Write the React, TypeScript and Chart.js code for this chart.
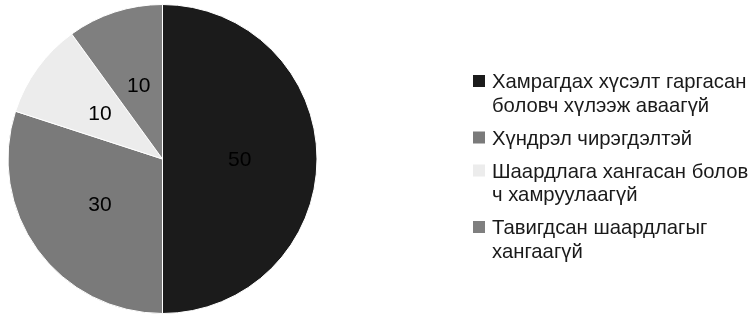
import React, { useEffect, useRef } from "react";
import { Chart, registerables } from "chart.js";

Chart.register(...registerables);

const categories: string[][] = [
  ["Хамрагдах хүсэлт гаргасан", "боловч хүлээж аваагүй"],
  ["Хүндрэл чирэгдэлтэй"],
  ["Шаардлага хангасан болов", "ч хамруулаагүй"],
  ["Тавигдсан шаардлагыг", "хангаагүй"],
];
const values: number[] = [50, 30, 10, 10];
const colors: string[] = ["#1b1b1b", "#7a7a7a", "#ececec", "#7f7f7f"];

const FONT = "'Liberation Sans', Arial, sans-serif";

const sliceLabels = {
  id: "sliceLabels",
  afterDatasetsDraw(chart: any) {
    const ctx = chart.ctx;
    const meta = chart.getDatasetMeta(0);
    ctx.save();
    ctx.font = `21px ${FONT}`;
    ctx.fillStyle = "#000";
    ctx.textAlign = "center";
    ctx.textBaseline = "middle";
    meta.data.forEach((arc: any, i: number) => {
      const p = arc.tooltipPosition();
      ctx.fillText(String(chart.data.datasets[0].data[i]), p.x, p.y + 1);
    });
    ctx.restore();
  },
};

const sideLegend = {
  id: "sideLegend",
  afterDraw(chart: any) {
    const ctx = chart.ctx;
    const boxX = 473;
    const boxSize = 12;
    const textX = 492;
    const lineH = 23.5;
    const gap = 9.5;
    let baseline = 88;
    ctx.save();
    ctx.font = `20.3px ${FONT}`;
    ctx.textAlign = "left";
    ctx.textBaseline = "alphabetic";
    const labels: string[][] = chart.data.labels;
    labels.forEach((lines: string[], i: number) => {
      ctx.fillStyle = chart.data.datasets[0].backgroundColor[i];
      ctx.fillRect(boxX, baseline - boxSize - 1, boxSize, boxSize);
      ctx.fillStyle = "#1a1a1a";
      lines.forEach((ln: string, j: number) => {
        ctx.fillText(ln, textX, baseline + j * lineH);
      });
      baseline += lines.length * lineH + gap;
    });
    ctx.restore();
  },
};

export default function App() {
  const ref = useRef<HTMLCanvasElement>(null);
  useEffect(() => {
    document.body.style.margin = "0";
    const chart = new Chart(ref.current as HTMLCanvasElement, {
      type: "pie",
      data: {
        labels: categories as any,
        datasets: [
          {
            data: values,
            backgroundColor: colors,
            borderColor: "#ffffff",
            borderWidth: 1,
          },
        ],
      },
      options: {
        animation: false,
        responsive: false,
        layout: { padding: { top: 4, bottom: -2, left: 7, right: 435 } },
        plugins: {
          legend: { display: false },
          tooltip: { enabled: false },
        },
      },
      plugins: [sliceLabels, sideLegend],
    });
    return () => chart.destroy();
  }, []);
  return (
    <div style={{ width: 753, height: 314, background: "#fff" }}>
      <canvas ref={ref} width={753} height={314} />
    </div>
  );
}
